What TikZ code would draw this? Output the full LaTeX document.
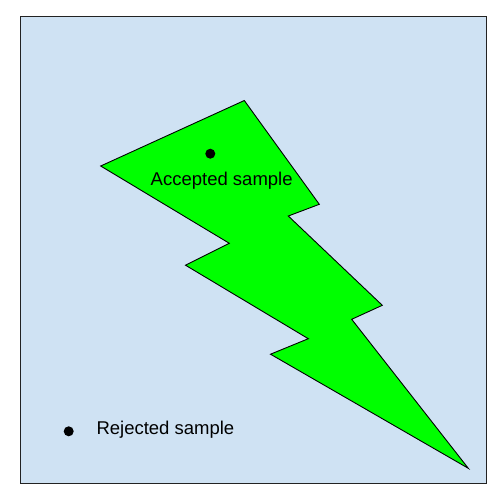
\documentclass[tikz,border=0pt]{standalone}
\usepackage{fontspec}
\setmainfont{Liberation Sans}
\definecolor{bgblue}{RGB}{207,226,243}
\definecolor{bolt}{RGB}{0,255,0}
\definecolor{frame}{RGB}{34,34,34}
\begin{document}
\begin{tikzpicture}[x=1pt,y=-1pt,
  lbl/.style={font=\fontsize{18.5}{22}\selectfont, inner sep=0pt, text=black},
  sample/.style={circle, fill=black, minimum size=10pt, inner sep=0pt}]
\useasboundingbox (0,0) rectangle (504,499);
\draw[frame, line width=1.3pt, fill=bgblue] (20.3,16.3) rectangle (486.7,483.3);
\draw[black, line width=0.9pt, fill=bolt, line join=miter]
  (244.3,100.5) -- (319.3,204.3) -- (288.3,216) -- (382.3,305.3) -- (351.7,319.3)
  -- (468.3,468.3) -- (270.5,354.2) -- (308.3,338.7) -- (185.5,265.2)
  -- (229.3,243.3) -- (100.7,166) -- cycle;
\node[sample] (acc) at (210.3,153.7) {};
\node[lbl, anchor=base] (acctext) at (221.7,185.5) {Accepted sample};
\node[sample] (rej) at (68.7,431.3) {};
\node[lbl, anchor=base west] (rejtext) at (96.3,434.5) {Rejected sample};
\end{tikzpicture}
\end{document}
